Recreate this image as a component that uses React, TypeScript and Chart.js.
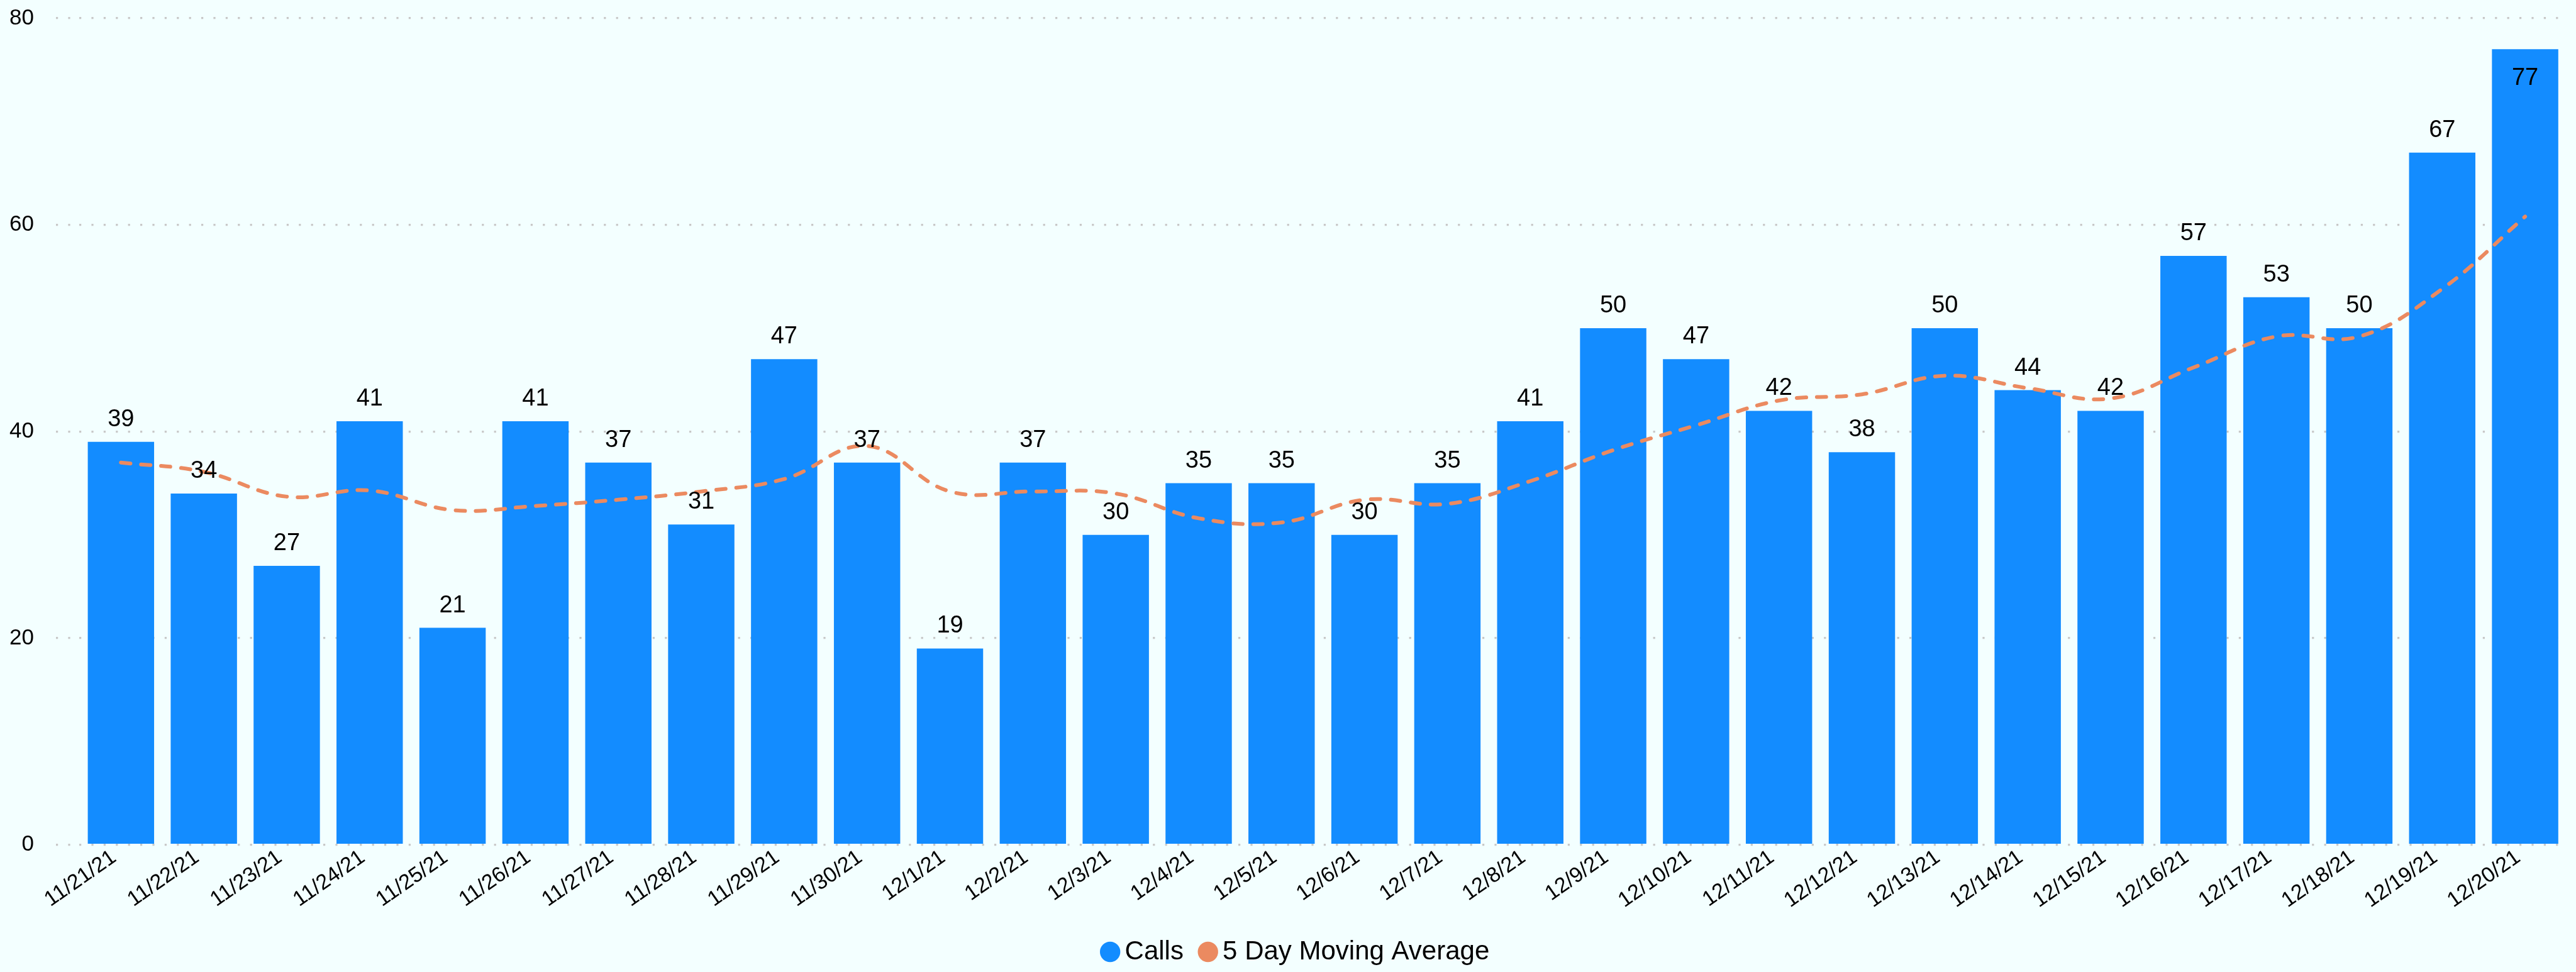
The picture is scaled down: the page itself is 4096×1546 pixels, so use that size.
import React, { useEffect, useRef } from 'react';
import { Chart, registerables } from 'chart.js';

Chart.register(...registerables);

const FONT = '"Liberation Sans", Arial, Helvetica, sans-serif';

const categories = [
  '11/21/21', '11/22/21', '11/23/21', '11/24/21', '11/25/21', '11/26/21', '11/27/21', '11/28/21',
  '11/29/21', '11/30/21', '12/1/21', '12/2/21', '12/3/21', '12/4/21', '12/5/21', '12/6/21',
  '12/7/21', '12/8/21', '12/9/21', '12/10/21', '12/11/21', '12/12/21', '12/13/21', '12/14/21',
  '12/15/21', '12/16/21', '12/17/21', '12/18/21', '12/19/21', '12/20/21',
];

const calls = [39, 34, 27, 41, 21, 41, 37, 31, 47, 37, 19, 37, 30, 35, 35, 30, 35, 41, 50, 47, 42, 38, 50, 44, 42, 57, 53, 50, 67, 77];

const movingAverage = [37.0, 36.1, 33.7, 34.3, 32.4, 32.8, 33.4, 34.2, 35.4, 38.6, 34.2, 34.2, 34.0, 31.6, 31.2, 33.4, 33.0, 35.2, 38.2, 40.6, 43.0, 43.6, 45.4, 44.2, 43.2, 46.2, 49.2, 49.2, 53.8, 60.8];

const yMin = 0;
const yMax = 80;
const yStep = 20;

const seriesNames = ['Calls', '5 Day Moving Average'];

const BAR_COLOR = '#138CFF';
const LINE_COLOR = '#EB8A60';
const GRID_COLOR = '#C8C8C8';
const BG = '#F3FFFF';

const barLabelPlugin = {
  id: 'barLabels',
  afterDatasetsDraw(chart: any) {
    const meta = chart.getDatasetMeta(0);
    const ctx = chart.ctx;
    ctx.save();
    ctx.font = `38px ${FONT}`;
    ctx.fillStyle = '#000';
    ctx.textAlign = 'center';
    ctx.textBaseline = 'alphabetic';
    meta.data.forEach((bar: any, i: number) => {
      const v = chart.data.datasets[0].data[i];
      const p = bar.getProps(['x', 'y'], true);
      let y = p.y - 25;
      if (y - 28 < chart.chartArea.top) y = p.y + 57;
      ctx.fillText(String(v), p.x, y);
    });
    ctx.restore();
  },
};

export default function App() {
  const ref = useRef<HTMLCanvasElement | null>(null);

  useEffect(() => {
    document.body.style.margin = '0';
    document.body.style.background = BG;
    const canvas = ref.current;
    if (!canvas) return;
    Chart.defaults.font.family = FONT;
    const defaultGen = (Chart.defaults as any).plugins.legend.labels.generateLabels;
    const chart = new Chart(canvas, {
      type: 'bar',
      data: {
        labels: categories,
        datasets: [
          {
            type: 'bar',
            label: seriesNames[0],
            data: calls,
            backgroundColor: BAR_COLOR,
            borderWidth: 0,
            categoryPercentage: 0.8,
            barPercentage: 1.0,
            order: 1,
          } as any,
          {
            type: 'line',
            label: seriesNames[1],
            data: movingAverage,
            borderColor: LINE_COLOR,
            backgroundColor: LINE_COLOR,
            borderWidth: 6,
            borderDash: [15, 17],
            borderCapStyle: 'round',
            pointRadius: 0,
            pointHoverRadius: 0,
            tension: 0.4,
            fill: false,
            order: 0,
          } as any,
        ],
      },
      plugins: [barLabelPlugin],
      options: {
        responsive: false,
        animation: false,
        devicePixelRatio: 1,
        layout: { padding: { left: 50, right: 15, top: 29, bottom: 1 } },
        plugins: {
          tooltip: { enabled: false },
          legend: {
            position: 'bottom',
            labels: {
              usePointStyle: true,
              pointStyle: 'circle',
              boxWidth: 4.8,
              boxHeight: 22.9,
              padding: 36.4,
              color: '#000',
              font: { size: 42, family: FONT },
              sort: (a: any, b: any) => a.datasetIndex - b.datasetIndex,
              generateLabels: (chart: any) =>
                defaultGen(chart).map((it: any) => ({
                  ...it,
                  lineWidth: 0,
                  lineDash: [],
                  strokeStyle: it.fillStyle,
                })),
            },
          },
        },
        scales: {
          x: {
            offset: true,
            grid: { display: false, drawTicks: false, tickLength: 0 },
            border: { display: false },
            ticks: {
              autoSkip: false,
              minRotation: 35,
              maxRotation: 35,
              padding: 0,
              labelOffset: -11,
              color: '#000',
              font: { size: 34, family: FONT },
            },
            afterFit: (s: any) => {
              s.height = 112.9;
            },
          },
          y: {
            min: yMin,
            max: yMax,
            grid: {
              color: GRID_COLOR,
              lineWidth: 3.2,
              drawTicks: true,
              tickLength: 37.4,
              tickColor: GRID_COLOR,
              tickWidth: 3.2,
              tickBorderDash: [3.2, 16.2],
            } as any,
            border: { display: false, dash: [3.2, 16.2] },
            ticks: {
              stepSize: yStep,
              padding: 35,
              crossAlign: 'near',
              color: '#000',
              font: { size: 35, family: FONT },
            },
            afterFit: (s: any) => {
              s.width = 76.4;
              s.paddingTop = 0;
              s.paddingBottom = 0;
              // let tick labels extend left of the (narrowed) axis box
              s._computeLabelArea = () => undefined;
            },
          },
        },
      } as any,
    });
    return () => chart.destroy();
  }, []);

  return (
    <div style={{ position: 'fixed', left: 0, top: 0, width: 4096, height: 1546, background: BG }}>
      <canvas ref={ref} width={4096} height={1546} style={{ display: 'block', width: 4096, height: 1546 }} />
    </div>
  );
}
